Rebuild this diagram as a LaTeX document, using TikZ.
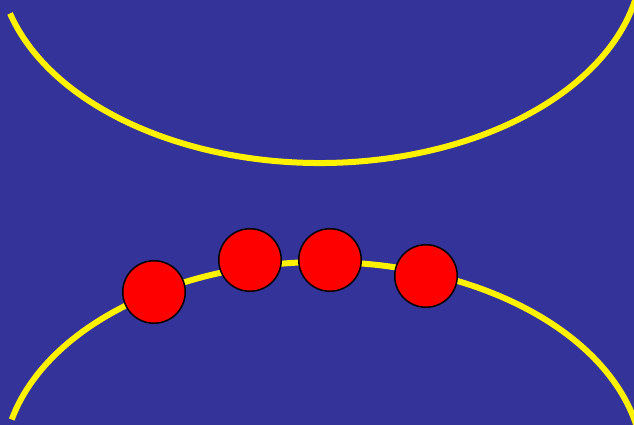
\documentclass[tikz,border=0pt]{standalone}
\usetikzlibrary{calc}
\definecolor{slide}{RGB}{51,51,153}

\begin{document}
\begin{tikzpicture}[x=1pt, y=1pt,
    rail/.style={yellow, line width=6pt},
    ball/.style={circle, fill=red, draw=black, line width=1.5pt,
      minimum size=62.5pt, inner sep=0pt}]
  \useasboundingbox (0,0) rectangle (634,425);
  \fill[slide] (0,0) rectangle (634,425);
  \clip (0,0) rectangle (634,425);
  % two elliptic rails, centres off the page
  \coordinate (topc) at (320,467);
  \coordinate (botc) at (323,-42);
  \draw[rail] ($(topc)+(195.7:322 and 205)$)
    arc[start angle=195.7, end angle=350, x radius=322pt, y radius=205pt];
  \draw[rail] ($(botc)+(166.6:320 and 205)$)
    arc[start angle=166.6, end angle=12, x radius=320pt, y radius=205pt];
  % balls on the lower rail
  \node[ball] (b1) at (154,133) {};
  \node[ball] (b2) at (250,165) {};
  \node[ball] (b3) at (330,165) {};
  \node[ball] (b4) at (426,149) {};
\end{tikzpicture}
\end{document}
